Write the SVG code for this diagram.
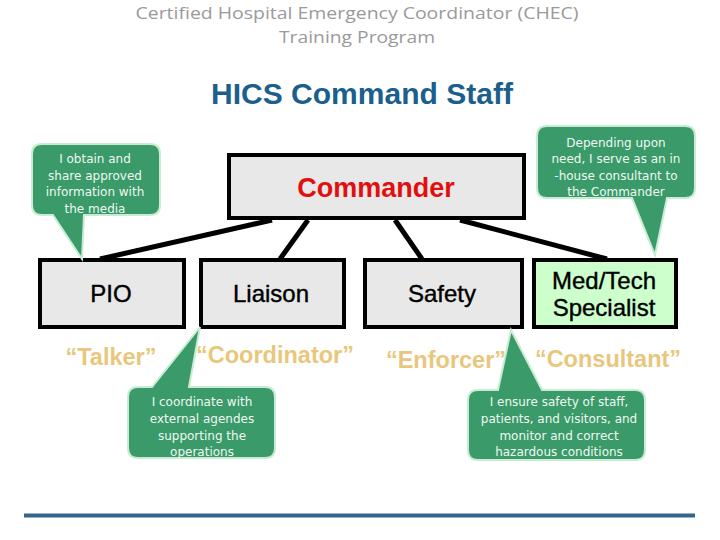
<svg xmlns="http://www.w3.org/2000/svg" width="720" height="540" viewBox="0 0 720 540">
<style>
.hdr{font-family:"Open Sans","DejaVu Sans",sans-serif;font-size:17px;fill:#9a9a9a;text-anchor:middle}
.title{font-family:"Liberation Sans",Arial,sans-serif;font-size:29px;font-weight:bold;fill:#1b5f8c;text-anchor:middle}
.box{fill:#e8e8e8;stroke:#000;stroke-width:4}
.box.green{fill:#ccffcc}
.lbl{font-family:"Liberation Sans",Arial,sans-serif;font-size:24px;fill:#000;text-anchor:middle;stroke:#000;stroke-width:0.4}
.cmd{font-family:"Liberation Sans",Arial,sans-serif;font-size:27px;font-weight:bold;fill:#e01010;text-anchor:middle}
.role{font-family:"Liberation Sans",Arial,sans-serif;font-size:23.5px;font-weight:bold;fill:#e8c77c;text-anchor:middle}
.conn{stroke:#000;stroke-width:5;fill:none}
.bub{fill:#3a9a6a;stroke:#c8ecd2;stroke-width:2}
.btxt{font-family:"DejaVu Sans",sans-serif;font-size:12px;fill:#eef9f1;text-anchor:middle}
</style>
<text class="hdr" x="357" y="19" textLength="443" lengthAdjust="spacingAndGlyphs">Certified Hospital Emergency Coordinator (CHEC)</text>
<text class="hdr" x="357" y="43" textLength="156" lengthAdjust="spacingAndGlyphs">Training Program</text>
<text class="title" x="362" y="104" textLength="302" lengthAdjust="spacingAndGlyphs">HICS Command Staff</text>

<g id="connectors">
<line class="conn" x1="272" y1="220" x2="100" y2="259"/>
<line class="conn" x1="308" y1="220" x2="280" y2="259"/>
<line class="conn" x1="395" y1="220" x2="422" y2="259"/>
<line class="conn" x1="460" y1="220" x2="607" y2="259"/>
</g>

<g id="commander">
<rect class="box" x="229" y="155" width="295" height="63"/>
<text class="cmd" x="376" y="197">Commander</text>
</g>
<g id="pio">
<rect class="box" x="40" y="260" width="144" height="67"/>
<text class="lbl" x="111" y="302">PIO</text>
<text class="role" x="111" y="365">“Talker”</text>
</g>
<g id="liaison">
<rect class="box" x="201" y="260" width="143" height="67"/>
<text class="lbl" x="271" y="302">Liaison</text>
<text class="role" x="275" y="363">“Coordinator”</text>
</g>
<g id="safety">
<rect class="box" x="365" y="260" width="157" height="67"/>
<text class="lbl" x="442" y="302">Safety</text>
<text class="role" x="446" y="368">“Enforcer”</text>
</g>
<g id="medtech">
<rect class="box green" x="534" y="260" width="142" height="67"/>
<text class="lbl" x="604" y="289">Med/Tech</text>
<text class="lbl" x="604" y="316">Specialist</text>
<text class="role" x="608" y="367">“Consultant”</text>
</g>

<g id="callout-pio">
<path class="bub" d="M42,144 H150 Q160,144 160,154 V205 Q160,215 150,215 H84 L82,259 L53,215 H42 Q32,215 32,205 V154 Q32,144 42,144 Z"/>
<text class="btxt" x="95" y="163">I obtain and</text>
<text class="btxt" x="95" y="180">share approved</text>
<text class="btxt" x="95" y="196">information with</text>
<text class="btxt" x="95" y="213">the media</text>
</g>
<g id="callout-medtech">
<path class="bub" d="M547,126 H685 Q695,126 695,136 V188 Q695,198 685,198 H667 L655,255 L632,198 H547 Q537,198 537,188 V136 Q537,126 547,126 Z"/>
<text class="btxt" x="616" y="147">Depending upon</text>
<text class="btxt" x="616" y="163">need, I serve as an in</text>
<text class="btxt" x="616" y="180">-house consultant to</text>
<text class="btxt" x="616" y="196">the  Commander</text>
</g>
<g id="callout-liaison">
<path class="bub" d="M138,387 H152 L200,327 L189,387 H265 Q275,387 275,397 V448 Q275,458 265,458 H138 Q128,458 128,448 V397 Q128,387 138,387 Z"/>
<text class="btxt" x="202" y="406">I coordinate with</text>
<text class="btxt" x="202" y="423">external agendes</text>
<text class="btxt" x="202" y="440">supporting the</text>
<text class="btxt" x="202" y="456">operations</text>
</g>
<g id="callout-safety">
<path class="bub" d="M478,390 H498 L511,330 L542,390 H635 Q645,390 645,400 V450 Q645,460 635,460 H478 Q468,460 468,450 V400 Q468,390 478,390 Z"/>
<text class="btxt" x="559" y="406">I ensure safety of staff,</text>
<text class="btxt" x="559" y="423">patients, and visitors, and</text>
<text class="btxt" x="559" y="440">monitor and correct</text>
<text class="btxt" x="559" y="456">hazardous conditions</text>
</g>

<line x1="24" y1="515.5" x2="695" y2="515.5" stroke="#35648f" stroke-width="4"/>
</svg>
